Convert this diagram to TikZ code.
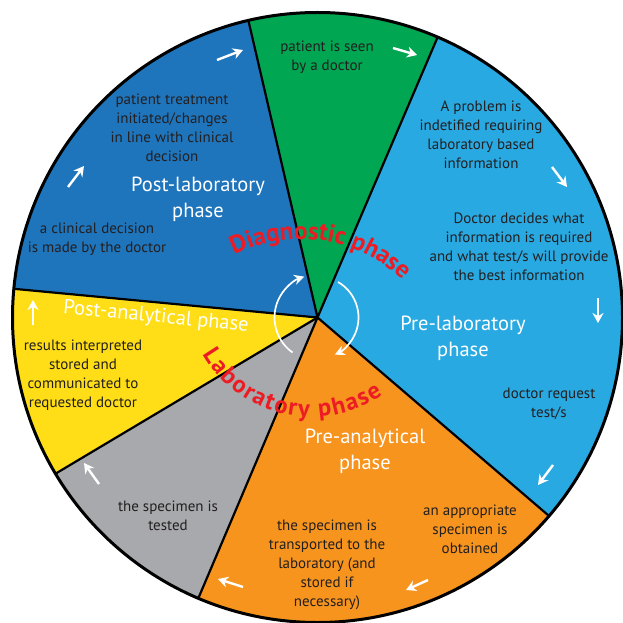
\documentclass[tikz,border=0pt]{standalone}
\usepackage{fontspec}
\setmainfont{PT Sans}
\usetikzlibrary{arrows.meta,decorations.text}
\definecolor{dblue}{HTML}{1F75BC}
\definecolor{pgreen}{HTML}{00A651}
\definecolor{lblue}{HTML}{29A9E1}
\definecolor{porange}{HTML}{F7941E}
\definecolor{pgray}{HTML}{A7A9AC}
\definecolor{pyellow}{HTML}{FFDE17}
\definecolor{labred}{HTML}{ED1C24}
\definecolor{txt}{HTML}{231F20}
\begin{document}
\begin{tikzpicture}[x=1pt,y=1pt,
  body/.style={align=center, text=txt, font=\fontsize{15}{19}\selectfont, inner sep=0pt},
  phaselbl/.style={align=center, text=white, font=\fontsize{20.5}{26}\selectfont, inner sep=0pt},
  sarrow/.style={white, line width=2.4pt, -{Stealth[length=10pt,width=11pt]}},
  carrow/.style={white, line width=1.7pt, -{Stealth[length=10pt,width=10pt]}},
  divider/.style={black, line width=2.2pt},
  rim/.style={black, line width=3pt}]
\useasboundingbox (0,0) rectangle (623,622);
\coordinate (C) at (317.5,304.5);
\def\R{305}
% sectors
\fill[pgreen] (C) -- ([shift={(66.8:\R)}]C) arc (66.8:103.1:\R) -- cycle;
\fill[dblue] (C) -- ([shift={(103.1:\R)}]C) arc (103.1:174.6:\R) -- cycle;
\fill[pyellow] (C) -- ([shift={(174.6:\R)}]C) arc (174.6:210.8:\R) -- cycle;
\fill[pgray] (C) -- ([shift={(210.8:\R)}]C) arc (210.8:247:\R) -- cycle;
\fill[porange] (C) -- ([shift={(247:\R)}]C) arc (247:319.4:\R) -- cycle;
\fill[lblue] (C) -- ([shift={(-40.6:\R)}]C) arc (-40.6:66.8:\R) -- cycle;
% dividers
\foreach \a in {66.8,103.1,174.6,210.8,247,319.4}
  \draw[divider] (C) -- ([shift={(\a:\R)}]C);
\draw[rim] (C) circle (\R);
% body texts
\node[body] (seen) at (327,565) {patient is seen\\by a doctor};
\node[body] (problem) at (481,487) {A problem is\\indetified requiring\\laboratory based\\information};
\node[body] (decides) at (519,375) {Doctor decides what\\information is required\\and what test/s will provide\\the best information};
\node[body] (request) at (549,218) {doctor request\\test/s};
\node[body] (approp) at (470,93) {an appropriate\\specimen is\\obtained};
\node[body] (transp) at (327,57) {the specimen is\\transported to the\\laboratory (and\\stored if\\necessary)};
\node[body] (tested) at (168,106) {the specimen is\\tested};
\node[body] (results) at (83,247) {results interpreted\\stored and\\communicated to\\requested doctor};
\node[body] (clinical) at (97,383) {a clinical decision\\is made by the doctor};
\node[body] (treat) at (172,494) {patient treatment\\initiated/changes\\in line with clinical\\decision};
% phase labels
\node[phaselbl] (prelab) at (463,284) {Pre-laboratory\\phase};
\node[phaselbl] (preana) at (365,171) {Pre-analytical\\phase};
\node[phaselbl, rotate=-5.5] (postana) at (156,305) {Post-analytical phase};
\node[phaselbl] (postlab) at (198,423) {Post-laboratory\\phase};
% small arrows
\coordinate (a1s) at (217,562); \coordinate (a1e) at (243,572);
\coordinate (a2s) at (393,574); \coordinate (a2e) at (417,567);
\coordinate (a3s) at (552,455); \coordinate (a3e) at (567,435);
\coordinate (a4s) at (598,324); \coordinate (a4e) at (598,299);
\coordinate (a5s) at (553,157); \coordinate (a5e) at (538,137);
\coordinate (a6s) at (428,42);  \coordinate (a6e) at (406,32);
\coordinate (a7s) at (243,35);  \coordinate (a7e) at (218,43);
\coordinate (a8s) at (99,138);  \coordinate (a8e) at (84,159);
\coordinate (a9s) at (33,297);  \coordinate (a9e) at (33,322);
\coordinate (a10s) at (68,435); \coordinate (a10e) at (84,456);
\foreach \i in {1,...,10} \draw[sarrow] (a\i s) -- (a\i e);
% circular arrows
\draw[carrow] ([shift={(234.5:43)}]C) arc (234.5:108:43);
\draw[carrow] ([shift={(60:41)}]C) arc (60:-65:41);
% red curved labels
\coordinate (dg) at (301,236);
\coordinate (lb) at (311,330);
\path[decorate, decoration={text along path, text align=fit to path, text color=labred,
  text={|\fontsize{25}{25}\selectfont\bfseries|Diagnostic phase}}]
  ([shift={(117:147)}]dg) arc (117:48:147);
\path[decorate, decoration={text along path, text align=fit to path, text color=labred,
  text={|\fontsize{24.5}{24.5}\selectfont\bfseries|Laboratory phase}}]
  ([shift={(210:125)}]lb) arc (210:305:125);
\end{tikzpicture}
\end{document}
